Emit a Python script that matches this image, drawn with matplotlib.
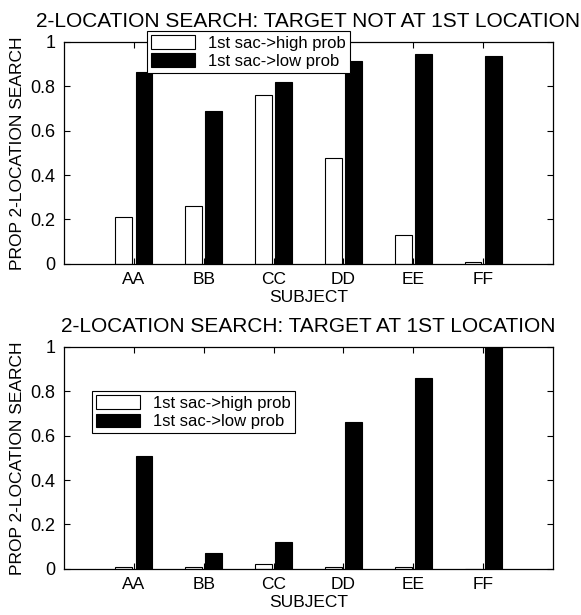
import numpy as np
import matplotlib.pyplot as plt

plt.rcParams['font.family'] = ['Liberation Sans', 'DejaVu Sans']

subjects = ['AA', 'BB', 'CC', 'DD', 'EE', 'FF']
yticks = [0, 0.2, 0.4, 0.6, 0.8, 1]
ytick_labels = ['0', '0.2', '0.4', '0.6', '0.8', '1']

# target not at 1st location
not_high = [0.21, 0.26, 0.76, 0.475, 0.13, 0.01]
not_low = [0.865, 0.69, 0.82, 0.915, 0.945, 0.935]

# target at 1st location
at_high = [0.01, 0.01, 0.02, 0.01, 0.01, 0.0]
at_low = [0.51, 0.07, 0.12, 0.66, 0.86, 1.0]

fig = plt.figure(figsize=(5.81, 6.15), dpi=100)
ax1 = fig.add_axes([0.110, 0.571, 0.842, 0.361])
ax2 = fig.add_axes([0.110, 0.075, 0.842, 0.361])

x = np.arange(1, len(subjects) + 1)
w = 0.24
off = 0.145


def draw(ax, high, low, title, legend_box):
    ax.bar(x - off, high, w, color='white', edgecolor='black', linewidth=0.8,
           label='1st sac->high prob')
    ax.bar(x + off, low, w, color='black', edgecolor='black', linewidth=0.8,
           label='1st sac->low prob')
    ax.set_xlim(0, 7)
    ax.set_ylim(0, 1)
    ax.set_xticks(x)
    ax.set_xticklabels(subjects, fontsize=12.5)
    ax.set_yticks(yticks)
    ax.set_yticklabels(ytick_labels, fontsize=13)
    ax.tick_params(direction='in', length=4, width=0.8, top=True, right=True,
                   pad=6)
    for s in ax.spines.values():
        s.set_linewidth(0.9)
    ax.set_xlabel('SUBJECT', fontsize=12.5, labelpad=2)
    ax.set_ylabel('PROP 2-LOCATION SEARCH', fontsize=12.5, labelpad=4)
    ax.set_title(title, fontsize=15, pad=11)
    leg = ax.legend(loc='upper left', bbox_to_anchor=legend_box, fontsize=12,
                    frameon=True, fancybox=False, edgecolor='black',
                    framealpha=1, borderpad=0.25, handlelength=2.6,
                    handleheight=0.9, handletextpad=0.8, labelspacing=0.15,
                    borderaxespad=0)
    leg.get_frame().set_linewidth(0.8)
    leg.set_zorder(5)


draw(ax1, not_high, not_low, '2-LOCATION SEARCH: TARGET NOT AT 1ST LOCATION',
     (0.170, 1.05))
draw(ax2, at_high, at_low, '2-LOCATION SEARCH: TARGET AT 1ST LOCATION',
     (0.058, 0.80))

fig.savefig('out.png', dpi=100)
